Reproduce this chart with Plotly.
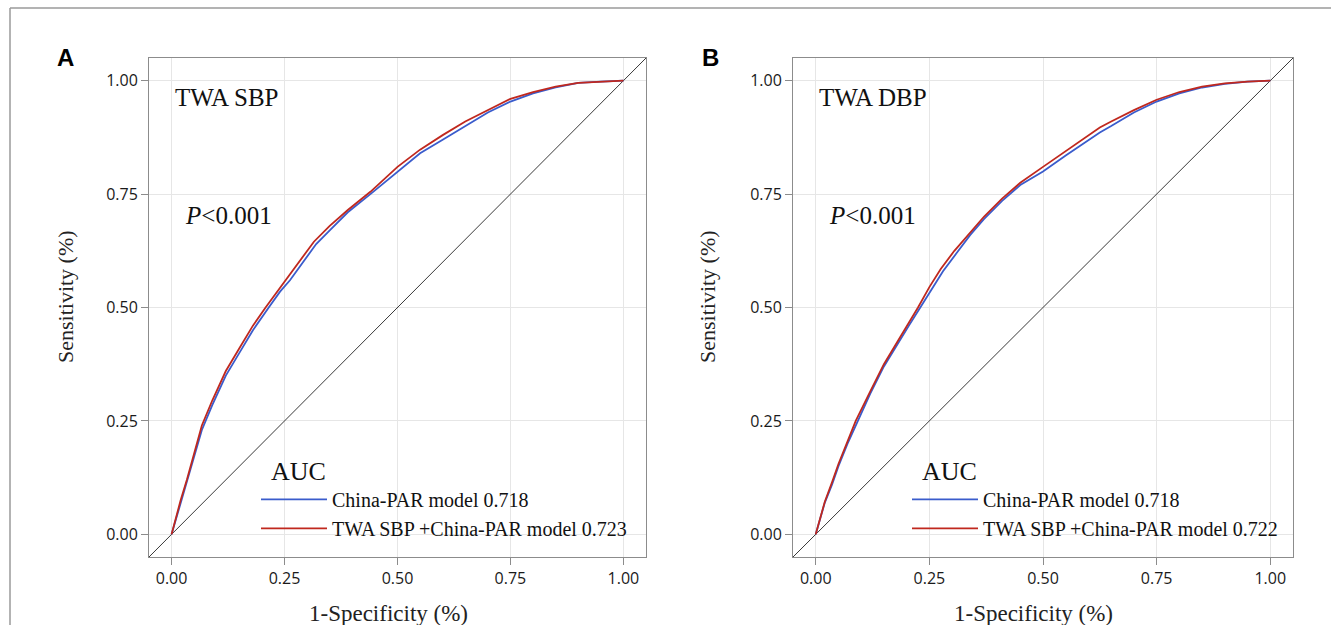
"""ROC curves: China-PAR model vs TWA SBP/DBP + China-PAR model (panels A, B)."""

import plotly.graph_objects as go
from plotly.subplots import make_subplots

# =============================================================================
# DATA
# =============================================================================

# Panel A -- TWA SBP
A_BLUE_X = [0, 0.01, 0.02, 0.034, 0.05, 0.067, 0.09, 0.12, 0.15, 0.18, 0.215, 0.24,
            0.262, 0.29, 0.32, 0.35, 0.39, 0.44, 0.5, 0.55, 0.6, 0.65, 0.7, 0.75,
            0.8, 0.85, 0.9, 0.95, 1]
A_BLUE_Y = [0, 0.035, 0.07, 0.115, 0.175, 0.23, 0.285, 0.35, 0.40, 0.45, 0.50, 0.535,
            0.56, 0.60, 0.64, 0.67, 0.71, 0.75, 0.80, 0.84, 0.87, 0.90, 0.93, 0.954,
            0.972, 0.985, 0.995, 0.998, 1]
A_RED_X = [0, 0.01, 0.02, 0.034, 0.05, 0.067, 0.09, 0.12, 0.15, 0.18, 0.208, 0.23,
           0.255, 0.285, 0.315, 0.35, 0.39, 0.44, 0.5, 0.55, 0.6, 0.65, 0.7, 0.75,
           0.8, 0.85, 0.9, 0.95, 1]
A_RED_Y = [0, 0.04, 0.075, 0.121, 0.18, 0.24, 0.295, 0.36, 0.41, 0.46, 0.50, 0.53,
           0.562, 0.605, 0.645, 0.68, 0.715, 0.755, 0.81, 0.848, 0.88, 0.91, 0.935,
           0.96, 0.975, 0.987, 0.995, 0.998, 1]

# Panel B -- TWA DBP
B_BLUE_X = [0, 0.01, 0.02, 0.036, 0.05, 0.07, 0.09, 0.12, 0.15, 0.18, 0.205, 0.23,
            0.255, 0.28, 0.31, 0.34, 0.37, 0.41, 0.45, 0.5, 0.55, 0.6, 0.625, 0.65,
            0.7, 0.75, 0.8, 0.85, 0.9, 0.95, 1]
B_BLUE_Y = [0, 0.035, 0.07, 0.11, 0.15, 0.20, 0.245, 0.31, 0.37, 0.42, 0.46, 0.50,
            0.54, 0.58, 0.62, 0.66, 0.695, 0.735, 0.77, 0.80, 0.835, 0.87, 0.886, 0.90,
            0.93, 0.954, 0.972, 0.985, 0.993, 0.998, 1]
B_RED_X = [0, 0.01, 0.02, 0.036, 0.05, 0.07, 0.088, 0.12, 0.15, 0.18, 0.205, 0.225,
           0.25, 0.275, 0.305, 0.34, 0.37, 0.41, 0.45, 0.5, 0.55, 0.6, 0.625, 0.65,
           0.7, 0.75, 0.8, 0.85, 0.9, 0.95, 1]
B_RED_Y = [0, 0.037, 0.072, 0.115, 0.155, 0.205, 0.25, 0.315, 0.375, 0.425, 0.465, 0.50,
           0.545, 0.585, 0.625, 0.665, 0.70, 0.74, 0.775, 0.81, 0.845, 0.88, 0.897, 0.91,
           0.935, 0.958, 0.975, 0.987, 0.994, 0.998, 1]

DIAG = [-0.05, 1.05]
TICKS = [0, 0.25, 0.5, 0.75, 1]
TICK_TEXT = ["0.00", "0.25", "0.50", "0.75", "1.00"]

PANELS = [
    {"letter": "A", "label": "TWA SBP", "blue": (A_BLUE_X, A_BLUE_Y), "red": (A_RED_X, A_RED_Y),
     "names": ["China-PAR model 0.718", "TWA SBP +China-PAR model 0.723"]},
    {"letter": "B", "label": "TWA DBP", "blue": (B_BLUE_X, B_BLUE_Y), "red": (B_RED_X, B_RED_Y),
     "names": ["China-PAR model 0.718", "TWA SBP +China-PAR model 0.722"]},
]

# =============================================================================
# STYLE
# =============================================================================

W, H = 1331, 625
BLUE = "#3a5ccc"
RED = "#c0281e"
SERIF = "Liberation Serif"
SANS = "Open Sans"
X_DOMAINS = [[149 / W, 646 / W], [793 / W, 1293 / W]]
Y_DOMAIN = [1 - 557 / H, 1 - 58 / H]
LETTER_X = [65, 710]
YTITLE_X = [65, 707]
LEGEND_X = [256, 907]

fig = make_subplots(rows=1, cols=2)

for i, p in enumerate(PANELS):
    col = i + 1
    legend_id = "legend" if i == 0 else "legend2"
    fig.add_trace(go.Scatter(x=DIAG, y=DIAG, mode="lines", showlegend=False,
                             line={"color": "#222222", "width": 0.9}), row=1, col=col)
    fig.add_trace(go.Scatter(x=p["blue"][0], y=p["blue"][1], mode="lines", name=p["names"][0],
                             line={"color": BLUE, "width": 1.8}, legend=legend_id),
                  row=1, col=col)
    fig.add_trace(go.Scatter(x=p["red"][0], y=p["red"][1], mode="lines", name=p["names"][1],
                             line={"color": RED, "width": 1.8}, legend=legend_id),
                  row=1, col=col)

    xref = "x" if i == 0 else "x2"
    yref = "y" if i == 0 else "y2"
    fig.add_annotation(x=0.003, y=0.963, xref=xref, yref=yref, text=p["label"],
                       showarrow=False, xanchor="left", yanchor="middle",
                       font={"family": SERIF, "size": 25, "color": "#111111"})
    fig.add_annotation(x=0.025, y=0.703, xref=xref, yref=yref, text="<i>P</i><0.001",
                       showarrow=False, xanchor="left", yanchor="middle",
                       font={"family": SERIF, "size": 25, "color": "#111111"})

    x0, x1 = X_DOMAINS[i]
    mid = (x0 + x1) / 2
    # panel letter
    fig.add_annotation(x=LETTER_X[i] / W, y=1 - 58 / H, xref="paper", yref="paper",
                       text=f"<b>{p['letter']}</b>", showarrow=False,
                       xanchor="center", yanchor="middle",
                       font={"family": "Liberation Sans", "size": 24, "color": "#000000"})
    # axis titles
    fig.add_annotation(x=YTITLE_X[i] / W, y=1 - 297 / H, xref="paper", yref="paper",
                       text="Sensitivity (%)", textangle=-90, showarrow=False,
                       xanchor="center", yanchor="middle",
                       font={"family": SERIF, "size": 22, "color": "#222222"})
    fig.add_annotation(x=mid - 0.007, y=1 - 613 / H, xref="paper", yref="paper",
                       text="1-Specificity (%)", showarrow=False,
                       xanchor="center", yanchor="middle",
                       font={"family": SERIF, "size": 23, "color": "#222222"})

axis_common = dict(
    range=[-0.05, 1.05], tickvals=TICKS, ticktext=TICK_TEXT,
    showgrid=True, gridcolor="#e6e6e6", gridwidth=1, zeroline=False,
    showline=True, linecolor="#8c8c8c", linewidth=1, mirror=True,
    ticks="outside", ticklen=7, tickcolor="#8c8c8c",
    tickfont={"family": SANS, "size": 16, "color": "#1a1a1a"},
)
fig.update_xaxes(**axis_common)
fig.update_yaxes(**axis_common)
fig.update_layout(
    xaxis={"domain": X_DOMAINS[0]}, xaxis2={"domain": X_DOMAINS[1]},
    yaxis={"domain": Y_DOMAIN}, yaxis2={"domain": Y_DOMAIN},
)

legend_common = dict(
    xanchor="left", yanchor="top", bgcolor="rgba(0,0,0,0)", borderwidth=0,
    font={"family": SERIF, "size": 20, "color": "#111111"},
    title={"text": "&nbsp;&nbsp;AUC", "font": {"family": SERIF, "size": 26, "color": "#111111"}},
    itemwidth=66, tracegroupgap=0,
)
fig.update_layout(
    legend=dict(x=LEGEND_X[0] / W, y=1 - 446 / H, **legend_common),
    legend2=dict(x=LEGEND_X[1] / W, y=1 - 446 / H, **legend_common),
)

# outer figure frame (top and left edges)
fig.add_shape(type="line", xref="paper", yref="paper", x0=10 / W, x1=1, y0=1 - 8 / H, y1=1 - 8 / H,
              line={"color": "#9a9a9a", "width": 1.5})
fig.add_shape(type="line", xref="paper", yref="paper", x0=10 / W, x1=10 / W, y0=0, y1=1 - 8 / H,
              line={"color": "#9a9a9a", "width": 1.5})

fig.update_layout(
    width=W, height=H,
    margin={"l": 0, "r": 0, "t": 0, "b": 0},
    paper_bgcolor="white", plot_bgcolor="white",
)

# page body has a default 8px margin; drop it so the figure fills the window
fig.write_html("out.html", config={"displayModeBar": False},
               post_script="document.body.style.margin = '0';")
